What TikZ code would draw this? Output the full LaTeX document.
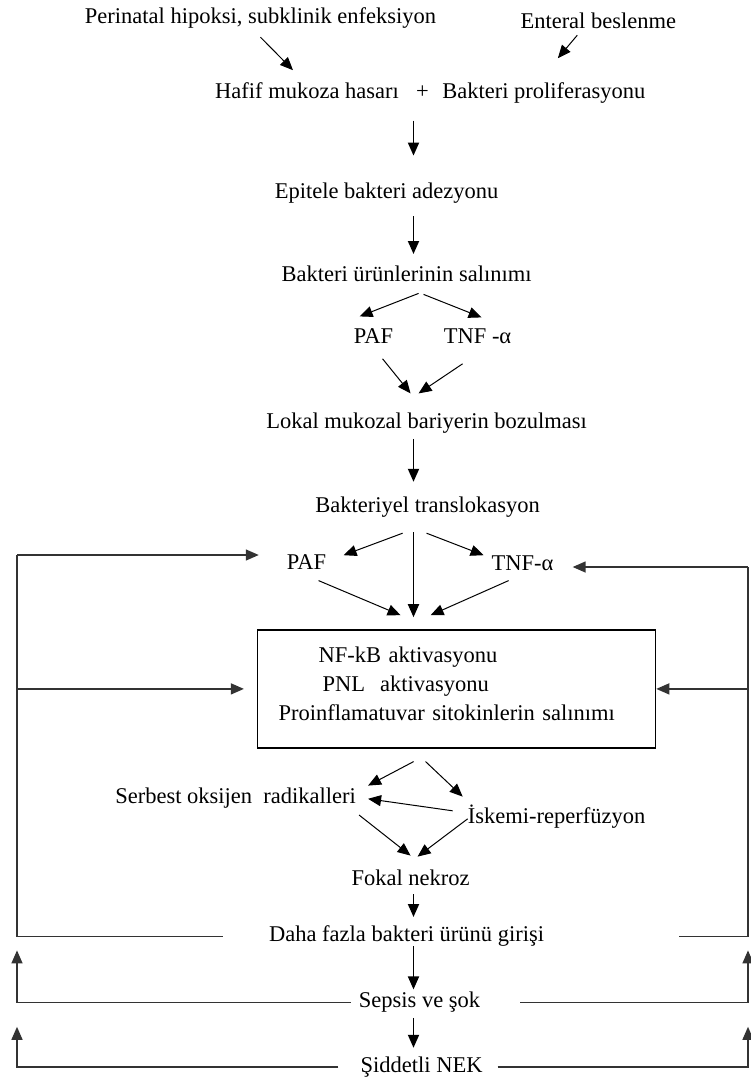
\documentclass[tikz,border=0pt]{standalone}
\usepackage{fontspec}
\setmainfont{Liberation Serif}
\usepackage{tikz}
\usetikzlibrary{positioning,arrows.meta}

\begin{document}
\begin{tikzpicture}[
  font=\fontsize{22.5}{29}\selectfont,
  txt/.style={inner sep=0pt, text height=15pt, text depth=5pt},
  kutu/.style={draw, line width=1.4pt, minimum width=398pt, minimum height=118pt, inner xsep=21pt, inner ysep=0pt, text width=356pt, align=left},
  arr/.style={-{Triangle[length=13pt,width=11pt]}, line width=1.8pt},
  darr/.style={-{Triangle[length=13pt,width=11pt]}, line width=1pt},
  loopln/.style={line width=1.4pt, draw=black!80},
  larr/.style={loopln, -{Triangle[length=13pt,width=11pt]}}
]
\useasboundingbox[fill=white] (0,0) rectangle (751pt,-1080pt);

\node[txt] (peri) at (260.5pt,-18pt) {Perinatal hipoksi, subklinik enfeksiyon};
\node[txt, right=84pt of peri, yshift=-5pt] (ent) {Enteral beslenme};
\node[txt, below=55pt of peri, xshift=46.5pt] (hasar) {Hafif mukoza hasarı};
\node[txt, right=17pt of hasar] (plus) {+};
\node[txt, right=13pt of plus] (prolif) {Bakteri proliferasyonu};
\coordinate (col) at (413.5pt,0);

\node[txt, below=80pt of plus, xshift=-36pt] (epit) {Epitele bakteri adezyonu};
\node[txt, below=62pt of epit, xshift=20pt] (urun) {Bakteri ürünlerinin salınımı};
\node[txt, below=42pt of urun, xshift=-33pt] (paf1) {PAF};
\node[txt, below=42pt of urun, xshift=71pt] (tnf1) {TNF -α};
\node[txt, below=127pt of urun, xshift=20pt] (lokal) {Lokal mukozal bariyerin bozulması};
\node[txt, below=63pt of lokal, xshift=1pt] (bakt) {Bakteriyel translokasyon};
\node[txt, below=37pt of bakt, xshift=-121pt] (paf2) {PAF};
\node[txt, below=38pt of bakt, xshift=95pt] (tnf2) {TNF-α};

\node[kutu, below=112pt of bakt, xshift=29pt] (box) {\hspace*{40pt}NF-kB aktivasyonu\\\hspace*{44pt}PNL\ \ aktivasyonu\\Proinflamatuvar sitokinlerin salınımı\\[-19pt]\mbox{}};

\node[txt, below=40pt of box, xshift=-221pt] (serb) {Serbest oksijen\ \ radikalleri};
\node[txt, below=60pt of box, xshift=100pt] (iske) {İskemi-reperfüzyon};
\node[txt, below=122pt of box, xshift=-46pt] (fokal) {Fokal nekroz};
\node[txt, below=35pt of fokal, xshift=-4pt] (daha) {Daha fazla bakteri ürünü girişi};
\node[txt, below=46pt of daha, xshift=13pt] (seps) {Sepsis ve şok};
\node[txt, below=44pt of seps, xshift=2pt] (sid) {Şiddetli NEK};

\coordinate (lt) at (17pt,-555pt);
\coordinate (rt) at (748pt,-567pt);

\draw[darr] ([yshift=-9pt]peri.south) -- ([xshift=-14pt,yshift=13pt]hasar.north);
\draw[darr] ([xshift=-21pt,yshift=-2pt]ent.south) -- ([xshift=14pt,yshift=25pt]prolif.north);
\draw[arr, shorten <=17pt, shorten >=28pt] (plus.south -| col) -- (epit.north -| col);
\draw[arr, shorten <=12pt, shorten >=12pt] (epit.south -| col) -- (urun.north -| col);
\draw[darr] ([xshift=12pt,yshift=-7pt]urun.south) -- ([xshift=-14pt,yshift=12pt]paf1.north);
\draw[darr] ([xshift=17pt,yshift=-8pt]urun.south) -- ([xshift=4pt,yshift=11pt]tnf1.north);
\draw[darr] ([xshift=9pt,yshift=-10pt]paf1.south) -- ([xshift=-16pt,yshift=20pt]lokal.north);
\draw[darr] ([xshift=-15pt,yshift=-15pt]tnf1.south) -- ([xshift=-8pt,yshift=20pt]lokal.north);
\draw[arr, shorten <=5pt, shorten >=15pt] (lokal.south -| col) -- (bakt.north -| col);
\draw[darr] ([xshift=-25pt,yshift=-16pt]bakt.south) -- ([xshift=37pt,yshift=-1pt]paf2.north);
\draw[darr] ([xshift=-1pt,yshift=-16pt]bakt.south) -- ([xshift=-39pt]tnf2.north);
\draw[arr, shorten <=15pt, shorten >=12pt] (bakt.south -| col) -- (box.north -| col);
\draw[darr] ([xshift=12pt,yshift=-6pt]paf2.south) -- ([xshift=-56pt,yshift=14pt]box.north);
\draw[darr] ([xshift=-14pt,yshift=-5pt]tnf2.south) -- ([xshift=-26pt,yshift=14pt]box.north);

\draw[darr] ([xshift=-43pt,yshift=-13pt]box.south) -- ([xshift=12pt,yshift=3pt]serb.north east);
\draw[darr] ([xshift=-31pt,yshift=-13pt]box.south) -- ([xshift=-5pt,yshift=12pt]iske.north west);
\draw[darr] ([xshift=-15pt,yshift=8pt]iske.west) -- ([xshift=12pt]serb.east);
\draw[darr] ([xshift=3pt,yshift=-6pt]serb.south east) -- ([yshift=15pt]fokal.north);
\draw[darr] (iske.west) -- ([xshift=7pt,yshift=14pt]fokal.north);
\draw[arr, shorten <=3pt, shorten >=9pt] (fokal.south -| col) -- (daha.north -| col);
\draw[arr, shorten >=3pt] (daha.south -| col) -- (seps.north -| col);
\draw[arr, shorten <=5pt, shorten >=9pt] (seps.south -| col) -- (sid.north -| col);

\draw[loopln] ([xshift=-46pt]daha.west) -| (lt);
\draw[larr, shorten >=28pt] (lt) -- (lt -| paf2.west);
\draw[larr, shorten >=13pt] (lt |- box) -- (box.west);
\draw[loopln] ([xshift=135pt]daha.east) -| (rt);
\draw[larr, shorten >=19pt] (rt) -- (rt -| tnf2.east);
\draw[larr] (rt |- box) -- (box.east);
\draw[larr, shorten >=4pt] ([xshift=-8pt]seps.west) -| (lt |- daha.south);
\draw[larr, shorten >=4pt] ([xshift=40pt]seps.east) -| (rt |- daha.south);
\draw[larr, shorten >=14pt] ([xshift=-22pt]sid.west) -| (lt |- seps.south);
\draw[larr, shorten >=14pt] ([xshift=15pt]sid.east) -| (rt |- seps.south);

\end{tikzpicture}
\end{document}
